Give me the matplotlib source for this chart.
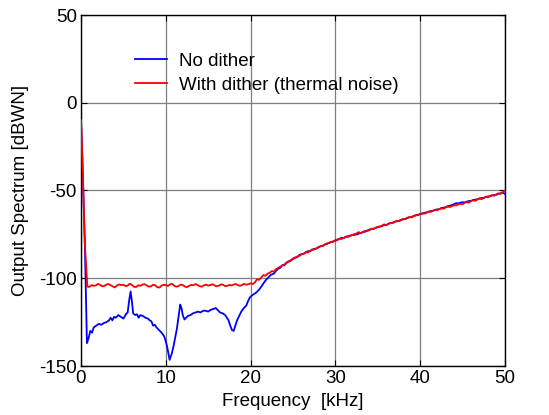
"""Output spectrum with and without dither — recreated with matplotlib.

Writes out.png (549x415).
"""

import numpy as np
import matplotlib

matplotlib.use("Agg")
import matplotlib.pyplot as plt

# --- data (frequency in kHz, level in dBWN) ---
BIN_STEP = 0.25

# steep drop at DC, then the dithered floor and the rising shaped-noise part
red_head_khz = [0.0, 0.15, 0.45]
red_head_db = [-10.0, -30.0, -80.0]
red_bins_start = 0.75
red_bins_db = [
    -104.8, -104.9, -103.9, -104.3, -104.1, -103.2, -103.8, -104.6, -104.4, -103.6,
    -103.3, -104.0, -104.7, -105.2, -104.1, -103.5, -103.9, -103.7, -104.5, -104.2,
    -103.1, -103.8, -104.9, -105.0, -104.0, -104.3, -103.6, -103.4, -104.1, -104.8,
    -104.6, -103.7, -104.0, -105.1, -105.3, -104.2, -103.7, -103.9, -104.4, -103.5,
    -103.2, -104.3, -104.8, -104.5, -103.6, -103.9, -104.7, -105.1, -104.3, -103.8,
    -104.0, -103.3, -103.9, -104.5, -104.8, -104.0, -103.6, -104.2, -103.9, -103.4,
    -104.1, -104.6, -104.2, -103.5, -103.7, -104.5, -104.3, -103.8, -104.1, -103.6,
    -103.3, -103.9, -104.3, -103.8, -103.2, -103.7, -103.4, -102.9, -103.3, -102.4,
    # 20.75 kHz onward
    -100.6, -100.9, -99.6, -98.2, -98.6, -97.4, -96.9, -95.9, -96.3, -94.8,
    -94.1, -93.4, -92.8, -92.1, -91.2, -90.6, -89.6, -89.1, -88.4, -87.6,
    -87.2, -86.4, -86.1, -85.2, -85.3, -84.4, -83.6, -83.7, -82.9, -82.4,
    -81.7, -81.6, -80.8, -80.2, -79.9, -79.3, -78.9, -78.8, -77.8, -77.5,
    -77.6, -76.9, -76.3, -76.5, -75.6, -75.3, -75.4, -74.4, -73.7, -74.5,
    -73.6, -72.9, -73.1, -72.3, -71.8, -71.9, -71.2, -70.7, -70.6, -70.0,
    -69.3, -69.8, -69.0, -68.4, -68.6, -67.9, -67.3, -67.5, -66.9, -66.2,
    -66.3, -65.6, -65.1, -65.3, -64.6, -64.0, -64.1, -63.4, -62.9, -63.2,
    -62.6, -62.0, -62.2, -61.5, -61.1, -61.3, -60.6, -60.2, -60.4, -59.7,
    -59.2, -59.4, -58.9, -58.3, -58.5, -57.9, -57.6, -57.8, -57.0, -56.6,
    -56.9, -56.0, -55.6, -55.9, -55.1, -54.6, -54.9, -54.2, -53.6, -53.9,
    -53.1, -52.6, -53.0, -52.1, -51.6, -51.9, -50.6, -50.3,
]

# undithered: spurs and notches below 22 kHz, irregular sampling
blue_head_khz = [
    0.0, 0.15, 0.45, 0.7, 0.9, 1.1, 1.3, 1.5, 1.8, 2.1, 2.4, 2.7, 3.0, 3.3, 3.5,
    3.7, 3.9, 4.1, 4.4, 4.7, 5.0, 5.3, 5.5, 5.7, 5.85, 6.0, 6.15, 6.4, 6.6, 6.8,
    7.0, 7.3, 7.6, 7.9, 8.1, 8.3, 8.5, 8.7, 8.9, 9.2, 9.5, 9.8, 10.0, 10.2, 10.45,
    10.7, 10.9, 11.1, 11.3, 11.5, 11.7, 11.85, 12.0, 12.2, 12.4, 12.6, 12.9, 13.2,
    13.5, 13.8, 14.1, 14.4, 14.7, 15.0, 15.3, 15.6, 15.9, 16.1, 16.4, 16.7, 17.0,
    17.2, 17.4, 17.6, 17.8, 18.0, 18.2, 18.4, 18.6, 18.9, 19.2, 19.5, 19.7, 19.9,
    20.1, 20.4, 20.7, 21.0, 21.3, 21.5, 21.8, 22.1, 22.4, 22.7,
]
blue_head_db = [
    -10.0, -30.0, -80.0, -137.0, -134.0, -130.0, -131.0, -128.0, -127.0, -126.0,
    -126.5, -125.5, -125.0, -124.0, -122.5, -124.0, -122.0, -122.5, -121.0, -122.0,
    -123.0, -120.5, -119.5, -112.0, -107.5, -113.0, -120.0, -121.0, -120.5, -122.5,
    -121.0, -121.5, -122.5, -123.0, -124.0, -124.5, -127.0, -126.5, -128.0, -129.5,
    -131.0, -133.0, -136.0, -140.0, -146.5, -143.0, -139.0, -134.0, -129.0, -122.0,
    -115.0, -117.0, -121.0, -123.5, -122.5, -121.5, -121.0, -120.0, -119.5, -119.0,
    -119.5, -118.5, -118.5, -119.0, -118.0, -117.5, -117.0, -118.0, -119.5, -120.0,
    -121.0, -122.5, -124.0, -127.0, -129.5, -130.0, -127.0, -124.0, -122.0, -119.0,
    -117.0, -115.5, -113.0, -111.0, -110.0, -109.0, -108.0, -106.5, -104.5, -103.0,
    -101.0, -99.5, -98.0, -97.5,
]
blue_bins_start = 23.0
blue_bins_db = [
    -95.8, -94.6, -94.0, -92.5, -92.6, -91.0, -90.3, -90.0, -88.8, -88.2,
    -88.0, -86.7, -86.3, -86.1, -85.2, -84.6, -84.7, -83.8, -83.3, -83.2,
    -82.3, -81.8, -81.6, -80.8, -80.5, -79.8, -79.4, -79.2, -78.3, -78.2,
    -77.5, -77.0, -77.1, -76.4, -76.0, -75.9, -75.3, -74.9, -75.1, -74.6,
    -74.1, -73.7, -73.5, -72.8, -72.6, -71.9, -71.8, -71.3, -70.9, -70.5,
    -70.4, -69.6, -69.7, -68.9, -68.6, -68.3, -67.8, -67.5, -67.3, -66.7,
    -66.4, -66.2, -65.5, -65.3, -65.1, -64.4, -64.2, -63.8, -63.4, -63.3,
    -62.7, -62.5, -62.1, -61.7, -61.6, -61.0, -60.8, -60.6, -60.0, -59.8,
    -59.5, -58.9, -58.7, -58.2, -57.8, -57.2, -57.4, -56.9, -56.7, -56.8,
    -56.3, -56.0, -55.9, -55.4, -55.2, -55.0, -54.5, -54.3, -54.2, -53.6,
    -53.4, -53.3, -52.8, -52.6, -52.4, -51.9, -51.6, -51.2, -52.0,
]

x_ticks = [0, 10, 20, 30, 40, 50]
y_ticks = [-150, -100, -50, 0, 50]

# bin axes for the uniformly sampled parts
red_khz = red_head_khz + list(red_bins_start + BIN_STEP * np.arange(len(red_bins_db)))
red_db = red_head_db + red_bins_db
blue_khz = blue_head_khz + list(blue_bins_start + BIN_STEP * np.arange(len(blue_bins_db)))
blue_db = blue_head_db + blue_bins_db

plt.rcParams["font.family"] = ["Liberation Sans", "DejaVu Sans"]
plt.rcParams["axes.unicode_minus"] = False
FS = 13.5

fig = plt.figure(figsize=(5.49, 4.15), dpi=100, facecolor="white")
ax = fig.add_axes([81 / 549, 1 - 366 / 415, 424 / 549, 351 / 415])

ax.plot(blue_khz, blue_db, color="#0000ff", linewidth=1.3, label="No dither", zorder=3)
ax.plot(red_khz, red_db, color="#ff0000", linewidth=1.3,
        label="With dither (thermal noise)", zorder=4)

ax.set_xlim(0, 50)
ax.set_ylim(-150, 50)
ax.set_xticks(x_ticks)
ax.set_yticks(y_ticks)
ax.grid(True, color="#7f7f7f", linewidth=0.9, zorder=0)
ax.set_axisbelow(True)
for s in ax.spines.values():
    s.set_color("black")
    s.set_linewidth(1.0)
ax.tick_params(direction="in", length=4, width=0.8, labelsize=FS, colors="black",
               top=True, right=True, pad=3)

ax.set_xlabel("Frequency  [kHz]", fontsize=FS, labelpad=4)
ax.set_ylabel("Output Spectrum [dBWN]", fontsize=FS, labelpad=7.5)

ax.legend(loc="upper left", bbox_to_anchor=(0.127, 0.893), frameon=False,
          fontsize=FS, borderpad=0, handlelength=1.7, handletextpad=0.65,
          labelspacing=0.38, borderaxespad=0)

fig.savefig("out.png", dpi=100, facecolor="white")
